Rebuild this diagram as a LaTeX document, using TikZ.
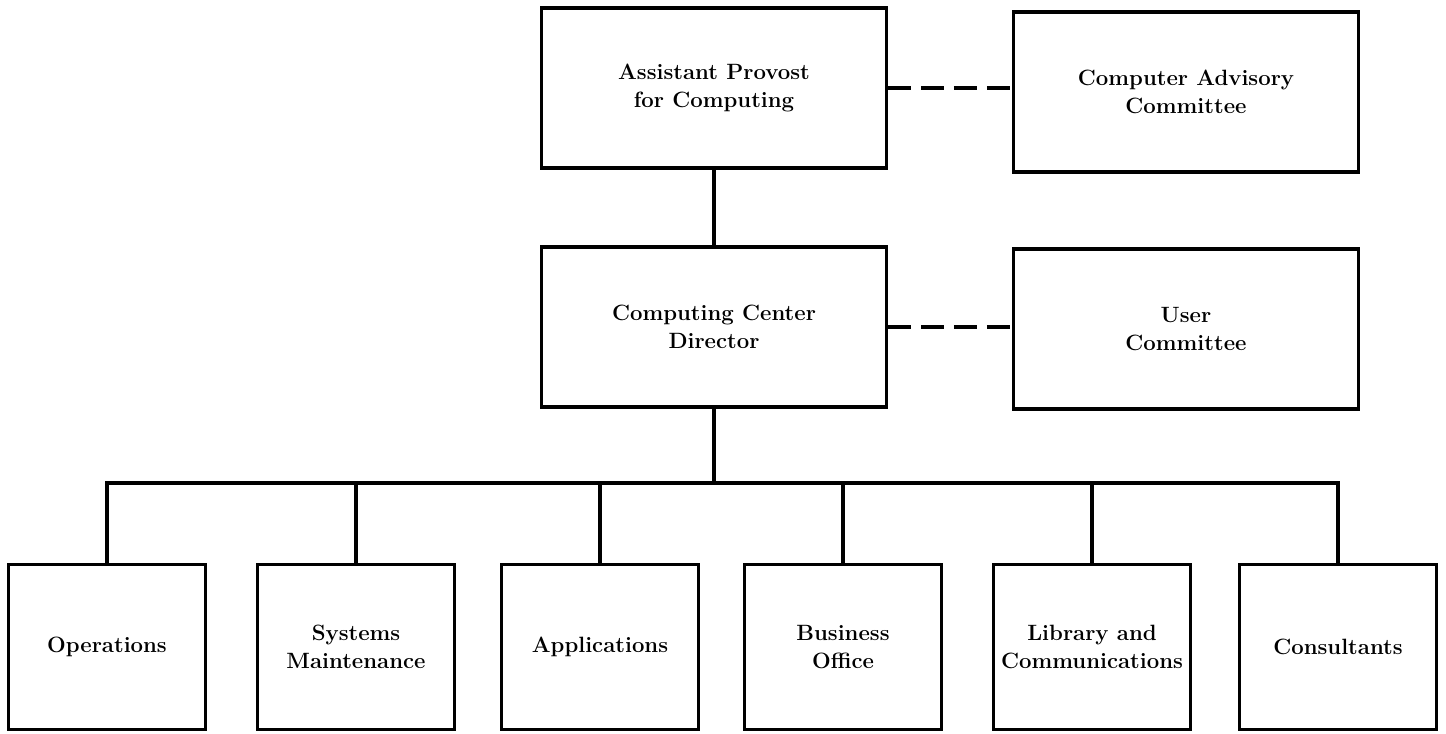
\documentclass[tikz,border=0pt]{standalone}
\usepackage{tikz}
\usetikzlibrary{positioning}

\tikzset{
  orgbox/.style={draw=black,line width=1.9pt,align=center,inner sep=2pt,
    font=\fontsize{12.6}{16}\selectfont\bfseries},
  topbox/.style={orgbox,minimum width=69mm,minimum height=32mm},
  unitbox/.style={orgbox,minimum width=39.5mm,minimum height=33mm},
  link/.style={draw=black,line width=2.3pt},
  advice/.style={draw=black,line width=1.9pt,dash pattern=on 13pt off 5.7pt}
}

\begin{document}
\begin{tikzpicture}[x=0.2mm,y=-0.2mm]
\useasboundingbox (0,0) rectangle (1446,734);

\node[topbox] (prov) at (714,88) {Assistant Provost\\for Computing};
\node[topbox] (cac) at (1186,92) {Computer Advisory\\Committee};
\node[topbox] (dir) at (714,327) {Computing Center\\Director};
\node[topbox] (user) at (1186,329) {User\\Committee};

\node[unitbox] (ops) at (107,647) {Operations};
\node[unitbox] (sys) at (356,647) {Systems\\Maintenance};
\node[unitbox] (app) at (600,647) {Applications};
\node[unitbox] (bus) at (843,647) {Business\\Office};
\node[unitbox] (lib) at (1092,647) {Library and\\Communications};
\node[unitbox] (con) at (1338,647) {Consultants};

\coordinate (split) at (714,483);

\draw[advice] (prov.east) -- (prov.east -| cac.west);
\draw[advice] (dir.east) -- (dir.east -| user.west);
\draw[link] (prov.south) -- (dir.north);
\draw[link] (dir.south) -- (split);
\draw[link,line width=1.9pt] (ops.north) |- (split) -| (con.north);
\foreach \u in {sys,app,bus,lib}
  \draw[link] (\u.north) -- (\u.north |- split);

\end{tikzpicture}
\end{document}
